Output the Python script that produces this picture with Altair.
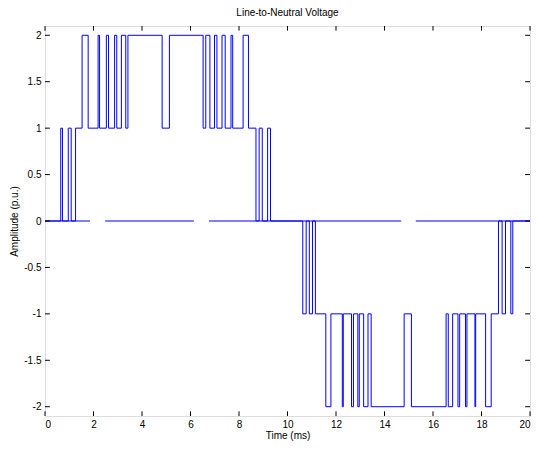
import altair as alt
import pandas as pd

# transition times (ms) and level reached at that time (p.u.)
times = [0, 0.65, 0.72, 0.96, 1.08, 1.26, 1.53, 1.78, 2.19, 2.25, 2.53, 2.62, 2.87, 2.96,
         3.15, 3.33, 3.42, 4.83, 5.13, 6.52, 6.63, 6.80, 6.99, 7.09, 7.30, 7.43, 7.67, 7.74,
         8.17, 8.39, 8.70, 8.83, 8.96, 9.18, 9.30,
         10.63, 10.77, 10.90, 11.03, 11.15, 11.58, 11.79, 12.26, 12.30, 12.64, 12.72, 12.90,
         12.96, 13.14, 13.32, 13.45, 14.81, 15.11, 16.54, 16.63, 16.81, 17.03, 17.10, 17.34,
         17.40, 17.73, 17.76, 18.17, 18.40, 18.70, 18.85, 18.99, 19.21, 19.29, 20]
levels = [0, 1, 0, 1, 0, 1, 2, 1, 2, 1, 2, 1, 2, 1,
          2, 1, 2, 1, 2, 1, 2, 1, 2, 1, 2, 1, 2, 1,
          2, 1, 0, 1, 0, 1, 0,
          -1, 0, -1, 0, -1, -2, -1, -2, -1, -2, -1, -2,
          -1, -2, -1, -2, -1, -2, -1, -2, -1, -2, -1, -2,
          -1, -2, -1, -2, -1, 0, -1, 0, -1, 0, 0]

# zero reference line segments (with gaps)
zero_start = [0, 2.48, 6.76, 15.29]
zero_end = [1.86, 6.14, 14.69, 20]

x_ticks = [0, 2, 4, 6, 8, 10, 12, 14, 16, 18, 20]
y_ticks = [-2, -1.5, -1, -0.5, 0, 0.5, 1, 1.5, 2]

BLUE = "#0000ff"
FONT = "Liberation Sans"

wave = pd.DataFrame({"t": times, "v": levels})
zero = pd.DataFrame({"s": zero_start, "e": zero_end})
xt = pd.DataFrame({"x": x_ticks})
yt = pd.DataFrame({"y": y_ticks})

xs = alt.Scale(domain=[0, 20], nice=False, zero=False)
ys = alt.Scale(domain=[-2.1, 2.1], nice=False, zero=False)

xaxis = alt.Axis(values=x_ticks, ticks=False, grid=False, domain=False, labelFont=FONT,
                 labelFontSize=10, labelColor="black", labelPadding=3,
                 title="Time (ms)", titleFont=FONT, titleFontSize=10,
                 titleFontWeight="normal", titleColor="black", titlePadding=1)
yaxis = alt.Axis(values=y_ticks, ticks=False, grid=False, domain=False, labelFont=FONT,
                 labelFontSize=10, labelColor="black", labelPadding=4,
                 labelExpr="'' + datum.value",
                 title="Amplitude (p.u.)", titleFont=FONT, titleFontSize=10,
                 titleFontWeight="normal", titleColor="black", titlePadding=4)

line = alt.Chart(wave).mark_line(interpolate="step-after", color=BLUE, strokeWidth=1).encode(
    x=alt.X("t:Q", scale=xs, axis=xaxis),
    y=alt.Y("v:Q", scale=ys, axis=yaxis),
)

zl = alt.Chart(zero).mark_rule(color=BLUE, strokeWidth=1).encode(
    x=alt.X("s:Q", scale=xs), x2="e:Q", y=alt.datum(0)
)

tick_b = alt.Chart(xt).mark_rule(color="black", strokeWidth=1).encode(
    x=alt.X("x:Q", scale=xs), y=alt.datum(-2.1), y2=alt.datum(-2.05))
tick_t = alt.Chart(xt).mark_rule(color="black", strokeWidth=1).encode(
    x=alt.X("x:Q", scale=xs), y=alt.datum(2.1), y2=alt.datum(2.05))
tick_l = alt.Chart(yt).mark_rule(color="black", strokeWidth=1).encode(
    y=alt.Y("y:Q", scale=ys), x=alt.datum(0), x2=alt.datum(0.2))
tick_r = alt.Chart(yt).mark_rule(color="black", strokeWidth=1).encode(
    y=alt.Y("y:Q", scale=ys), x=alt.datum(20), x2=alt.datum(19.8))

chart = alt.layer(zl, line, tick_b, tick_t, tick_l, tick_r).properties(
    width=485, height=390,
    autosize=alt.AutoSizeParams(type="none"),
    padding={"left": 37, "top": 18, "right": 1, "bottom": 26},
    title=alt.TitleParams("Line-to-Neutral Voltage", font=FONT, fontSize=10,
                          fontWeight="normal", color="black", offset=8),
).configure_view(stroke="black", strokeWidth=1.2).configure(background="white")

chart.save("out.html", embed_options={"renderer": "svg", "actions": False})
